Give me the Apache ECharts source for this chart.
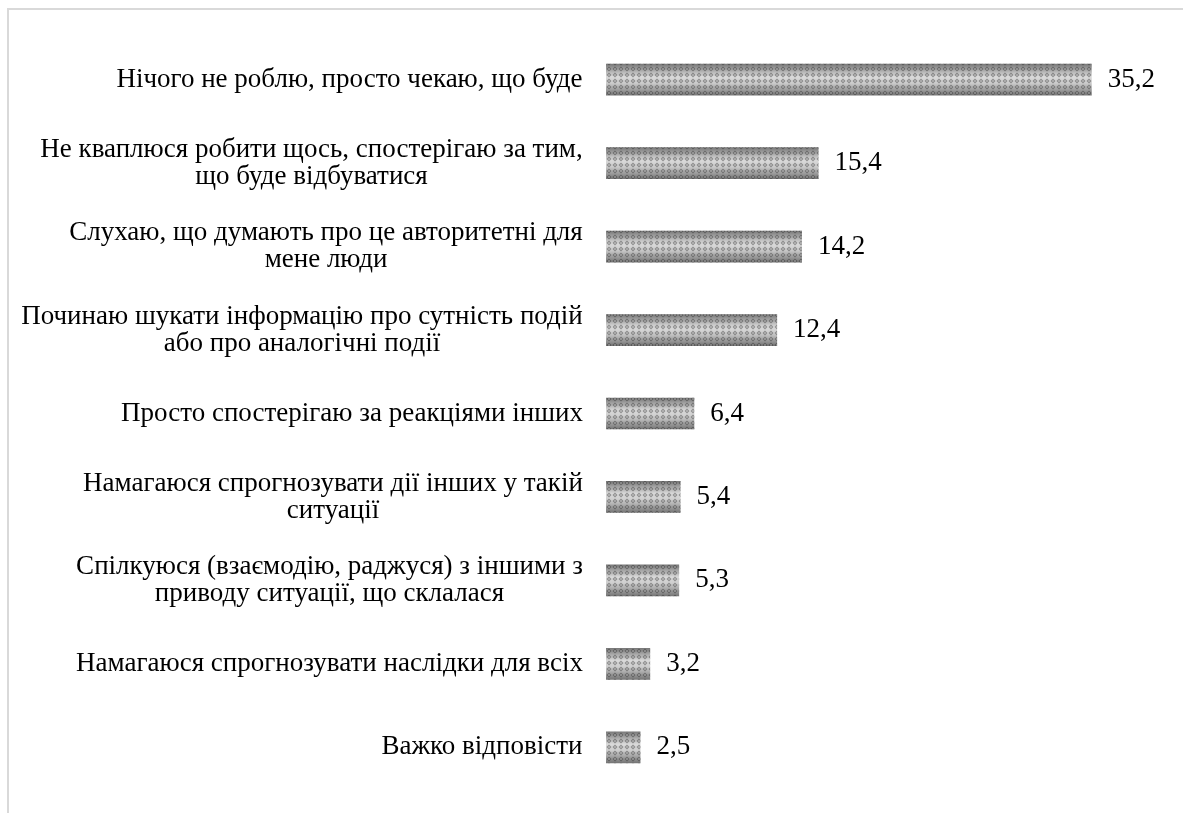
<!DOCTYPE html>
<html><head><meta charset="utf-8">
<script src="https://cdn.jsdelivr.net/npm/echarts@6/dist/echarts.min.js"></script>
<style>html,body{margin:0;padding:0;background:#fff}#c{width:1183px;height:813px}</style>
</head><body><div id="c"></div>
<script>
const categories = [
  "Нічого не роблю, просто чекаю, що буде",
  "Не кваплюся робити щось, спостерігаю за тим,\nщо буде відбуватися",
  "Слухаю, що думають про це авторитетні для\nмене люди",
  "Починаю шукати інформацію про сутність подій\nабо про аналогічні події",
  "Просто спостерігаю за реакціями інших",
  "Намагаюся спрогнозувати дії інших у такій\nситуації",
  "Спілкуюся (взаємодію, раджуся) з іншими з\nприводу ситуації, що склалася",
  "Намагаюся спрогнозувати наслідки для всіх",
  "Важко відповісти"
];
const values = [35.2, 15.4, 14.2, 12.4, 6.4, 5.4, 5.3, 3.2, 2.5];

const font = "'Liberation Serif', 'Times New Roman', serif";
const fontSize = 27;

// pattern tile
const tile = document.createElement('canvas');
tile.width = 6; tile.height = 6;
const tc = tile.getContext('2d');
tc.fillStyle = 'rgba(30,30,30,0.38)';
tc.beginPath(); tc.moveTo(3,0.5); tc.lineTo(5.5,3); tc.lineTo(3,5.5); tc.lineTo(0.5,3); tc.closePath(); tc.fill();
tc.fillStyle = 'rgba(255,255,255,0.4)';
tc.fillRect(2.2,2.2,1.6,1.6);

// rich styles so wrapped lines are centred within their block
const mc = document.createElement('canvas').getContext('2d');
mc.font = fontSize + 'px ' + font;
const rich = {};
categories.forEach((c, i) => {
  const w = Math.max(...c.split('\n').map(s => mc.measureText(s).width));
  rich['r' + i] = {width: Math.ceil(w), align: 'center', color: '#000', fontFamily: font, fontSize: fontSize, lineHeight: 27};
});

const chart = echarts.init(document.getElementById('c'));
chart.setOption({
  animation: false,
  backgroundColor: '#fff',
  graphic: [{type:'rect', shape:{x:8, y:9, width:1300, height:900}, style:{fill:'none', stroke:'#d9d9d9', lineWidth:2}, silent:true}],
  grid: {left: 606, right: 25, top: 38, bottom: 24, containLabel: false},
  xAxis: {type:'value', min:0, max:40, show:false},
  yAxis: {type:'category', data: categories, inverse:true,
    axisLine:{show:false}, axisTick:{show:false}, splitLine:{show:false},
    axisLabel:{color:'#000', fontFamily:font, fontSize:fontSize, lineHeight:27, margin:23, align:'right',
      formatter: (v, i) => v.split('\n').map(s => '{r' + i + '|' + s + '}').join('\n'),
      rich: rich}},
  series: [
    {type:'bar', data: values, barWidth:'38%',
     itemStyle:{color:{type:'linear', x:0, y:0, x2:0, y2:1, colorStops:[
       {offset:0, color:'#777777'},{offset:0.4, color:'#dadada'},{offset:0.6, color:'#cdcdcd'},{offset:1, color:'#747474'}]}}},
    {type:'bar', data: values, barWidth:'38%', barGap:'-100%',
     itemStyle:{color:{image: tile, repeat:'repeat'}},
     label:{show:true, position:'right', distance:16, color:'#000', fontFamily:font, fontSize:fontSize,
       formatter: p => String(p.value).replace('.', ',')}}
  ]
});
</script></body></html>
